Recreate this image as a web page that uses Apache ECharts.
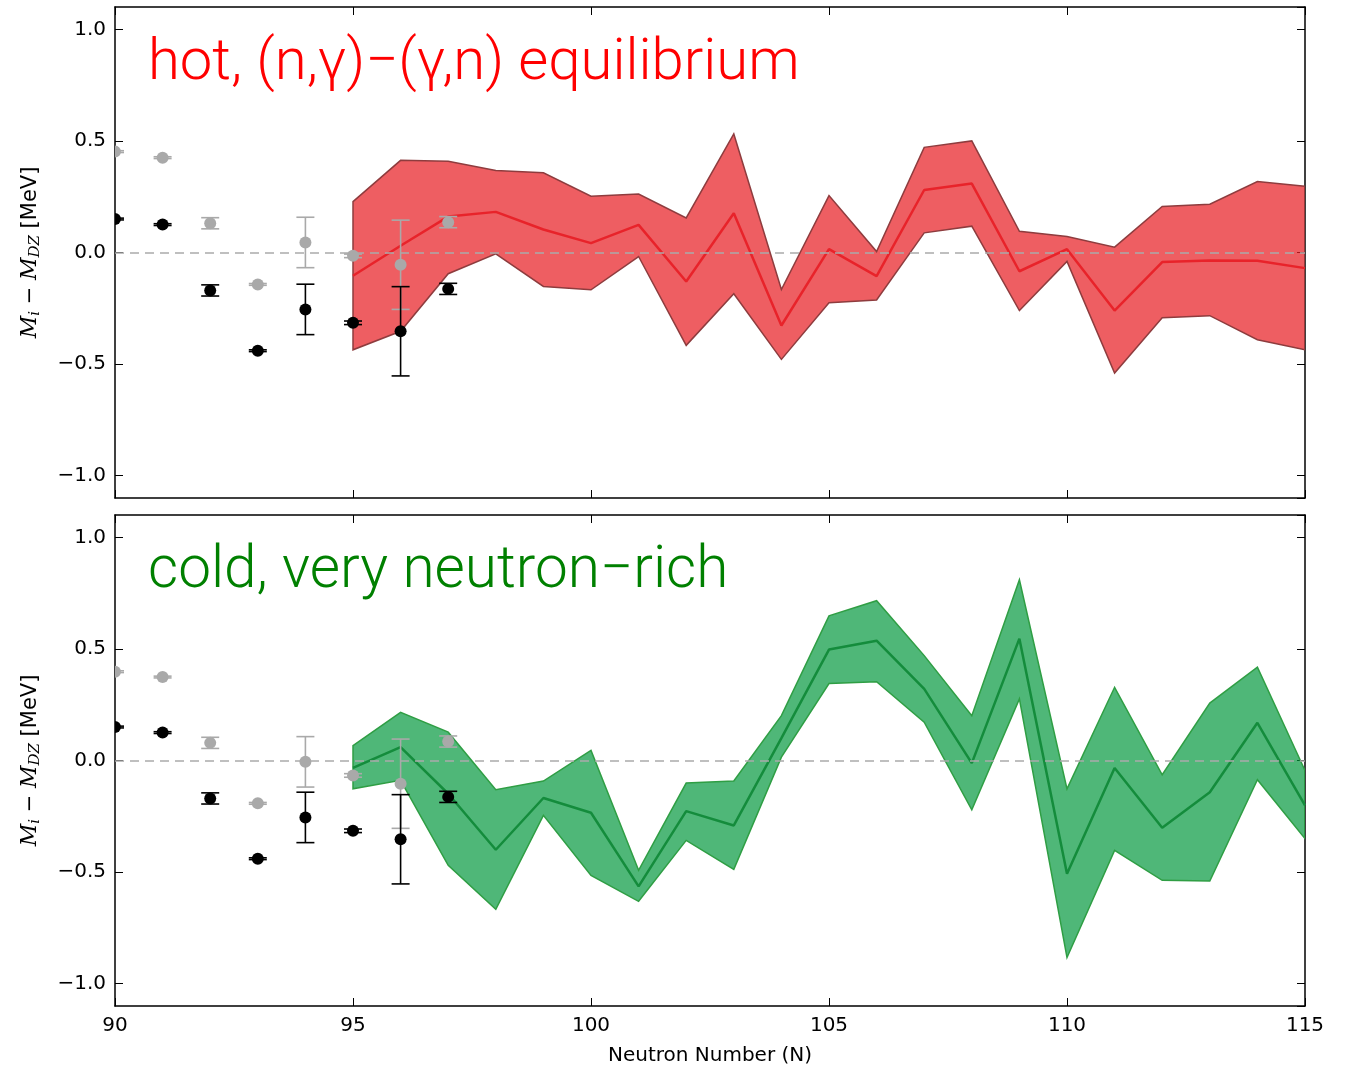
<!DOCTYPE html>
<html>
<head>
<meta charset="utf-8">
<script src="https://cdn.jsdelivr.net/npm/echarts@6/dist/echarts.min.js"></script>
<style>
  html, body { margin: 0; padding: 0; background: #fff; overflow: hidden; }
  #chart { width: 1345px; height: 1068px; }
</style>
</head>
<body>
<div id="chart"></div>
<script>
// Neutron numbers
const nExp = [90, 91, 92, 93, 94, 95, 96, 97];
const nModel = [95, 96, 97, 98, 99, 100, 101, 102, 103, 104, 105,
                106, 107, 108, 109, 110, 111, 112, 113, 114, 115];

// Measured mass differences (black) and their uncertainties
const measVal = [0.150, 0.125, -0.170, -0.440, -0.255, -0.315, -0.353, -0.163];
const measErr = [0.004, 0.004, 0.025, 0.004, 0.113, 0.008, 0.200, 0.025];

// Second measured set (grey), per scenario
const greyHot  = [0.452, 0.425, 0.131, -0.143, 0.045, -0.015, -0.055, 0.136];
const greyCold = [0.398, 0.374, 0.079, -0.192, -0.006, -0.067, -0.104, 0.085];
const greyErr  = [0.004, 0.004, 0.025, 0.004, 0.113, 0.008, 0.200, 0.025];

// Hot, (n,g)-(g,n) equilibrium: lower bound, central value, upper bound
const hotLow  = [-0.436, -0.353, -0.095, -0.006, -0.152, -0.167, -0.018, -0.416, -0.185, -0.479, -0.225,
                 -0.213, 0.088, 0.118, -0.260, -0.040, -0.540, -0.292, -0.283, -0.391, -0.436];
const hotMid  = [-0.104, 0.030, 0.161, 0.182, 0.103, 0.042, 0.124, -0.130, 0.176, -0.327, 0.015,
                 -0.106, 0.280, 0.309, -0.084, 0.015, -0.260, -0.043, -0.036, -0.037, -0.070];
const hotHigh = [0.228, 0.413, 0.409, 0.367, 0.357, 0.252, 0.262, 0.155, 0.531, -0.166, 0.255,
                 0.004, 0.471, 0.500, 0.095, 0.072, 0.024, 0.206, 0.216, 0.318, 0.297];

// Cold, very neutron-rich
const coldLow  = [-0.127, -0.089, -0.470, -0.667, -0.246, -0.515, -0.631, -0.358, -0.488, 0.015, 0.345,
                  0.353, 0.172, -0.221, 0.276, -0.883, -0.403, -0.537, -0.540, -0.086, -0.350];
const coldMid  = [-0.033, 0.060, -0.149, -0.400, -0.168, -0.234, -0.564, -0.227, -0.291, 0.100, 0.497,
                  0.537, 0.321, -0.012, 0.546, -0.507, -0.034, -0.301, -0.142, 0.169, -0.201];
const coldHigh = [0.067, 0.216, 0.127, -0.131, -0.092, 0.045, -0.492, -0.101, -0.092, 0.201, 0.648,
                  0.716, 0.470, 0.201, 0.810, -0.127, 0.328, -0.064, 0.257, 0.418, -0.045];

const xTickStep = 5;
const yRange = [-1.1, 1.1];

const fmtY = v => (v < 0 ? '\u2212' : '') + Math.abs(v).toFixed(1);
const tickFont = { fontFamily: 'DejaVu Sans', fontSize: 20, color: '#000' };

function bandRows(low, mid, high) {
  return nModel.map((n, i) => [n, low[i], mid[i], high[i]]);
}
function pointRows(vals, errs) {
  return nExp.map((n, i) => [n, vals[i], errs[i]]);
}

// Shaded band drawn as one closed polygon through upper and lower bounds
function bandSeries(rows, xi, yi, fill, edge) {
  return {
    type: 'custom', xAxisIndex: xi, yAxisIndex: yi, clip: true, z: 2,
    data: rows,
    encode: { x: 0, y: [1, 3] },
    renderItem: (params, api) => {
      if (params.dataIndex !== 0) return;
      const upper = rows.map(r => api.coord([r[0], r[3]]));
      const lower = rows.map(r => api.coord([r[0], r[1]])).reverse();
      return {
        type: 'polygon',
        shape: { points: upper.concat(lower) },
        style: { fill: fill, stroke: edge, lineWidth: 1.5 }
      };
    },
    markLine: {
      silent: true, symbol: 'none', label: { show: false },
      lineStyle: { color: '#aaaaaa', type: [9, 6], width: 1.5 },
      data: [{ yAxis: 0 }]
    }
  };
}

function midSeries(rows, xi, yi, color) {
  return {
    type: 'line', xAxisIndex: xi, yAxisIndex: yi, z: 3,
    data: rows.map(r => [r[0], r[2]]),
    symbol: 'none', lineStyle: { color: color, width: 2.5 }, silent: true
  };
}

// Points with vertical error bars and caps
function errSeries(rows, xi, yi, color, z) {
  return {
    type: 'custom', xAxisIndex: xi, yAxisIndex: yi, clip: true, z: z,
    data: rows,
    encode: { x: 0, y: 1 },
    renderItem: (params, api) => {
      const n = api.value(0), v = api.value(1), e = api.value(2);
      const c = api.coord([n, v]);
      const t = api.coord([n, v + e]);
      const b = api.coord([n, v - e]);
      const cap = 9;
      const ls = { stroke: color, lineWidth: 1.6 };
      return {
        type: 'group',
        children: [
          { type: 'line', shape: { x1: c[0], y1: t[1], x2: c[0], y2: b[1] }, style: ls },
          { type: 'line', shape: { x1: c[0] - cap, y1: t[1], x2: c[0] + cap, y2: t[1] }, style: ls },
          { type: 'line', shape: { x1: c[0] - cap, y1: b[1], x2: c[0] + cap, y2: b[1] }, style: ls },
          { type: 'circle', shape: { cx: c[0], cy: c[1], r: 6 }, style: { fill: color } }
        ]
      };
    }
  };
}

function xAxisDef(grid, pos, showLabels, name) {
  return {
    type: 'value', gridIndex: grid, position: pos,
    min: 90, max: 115, interval: xTickStep,
    axisLine: { show: true, onZero: false, lineStyle: { color: '#000', width: 1.5 } },
    axisTick: { show: true, inside: true, length: 8, lineStyle: { color: '#000', width: 1 } },
    axisLabel: Object.assign({ show: showLabels, margin: 10 }, tickFont),
    splitLine: { show: false },
    name: name || '', nameLocation: 'middle', nameGap: 40,
    nameTextStyle: { fontFamily: 'DejaVu Sans', fontSize: 20, color: '#000' }
  };
}

const yName = '{i|M}{s|i}{n| \u2212 }{i|M}{s|DZ}{n| [MeV]}';
const yRich = {
  i: { fontFamily: 'DejaVu Serif', fontStyle: 'italic', fontSize: 22, color: '#000' },
  s: { fontFamily: 'DejaVu Serif', fontStyle: 'italic', fontSize: 15, color: '#000', padding: [10, 0, 0, 0] },
  n: { fontFamily: 'DejaVu Sans', fontSize: 21, color: '#000' }
};

function yAxisDef(grid, pos, showLabels, withName) {
  return {
    type: 'value', gridIndex: grid, position: pos,
    min: yRange[0], max: yRange[1], splitNumber: 5,
    axisLine: { show: true, onZero: false, lineStyle: { color: '#000', width: 1.5 } },
    axisTick: { show: true, inside: true, length: 8, lineStyle: { color: '#000', width: 1 } },
    axisLabel: Object.assign({ show: showLabels, margin: 9, formatter: fmtY,
                               showMinLabel: false, showMaxLabel: false }, tickFont),
    splitLine: { show: false },
    name: withName ? yName : '', nameLocation: 'middle', nameRotate: 90, nameGap: 72,
    nameTextStyle: { rich: yRich }
  };
}

const chart = echarts.init(document.getElementById('chart'), null, { renderer: 'canvas' });

chart.setOption({
  animation: false,
  backgroundColor: '#fff',
  title: [
    { text: 'hot, (n,\u03b3)\u2212(\u03b3,n) equilibrium', left: 143, top: 30,
      textStyle: { fontFamily: 'Roboto', fontWeight: 300, fontSize: 58, color: '#ff0000' } },
    { text: 'cold, very neutron\u2212rich', left: 143, top: 538,
      textStyle: { fontFamily: 'Roboto', fontWeight: 300, fontSize: 58.5, color: '#008000' } }
  ],
  grid: [
    { left: 115, top: 7, width: 1190, height: 491, outerBoundsMode: 'none' },
    { left: 115, top: 515, width: 1190, height: 491, outerBoundsMode: 'none' }
  ],
  xAxis: [
    xAxisDef(0, 'bottom', false),
    xAxisDef(0, 'top', false),
    xAxisDef(1, 'bottom', true, 'Neutron Number (N)'),
    xAxisDef(1, 'top', false)
  ],
  yAxis: [
    yAxisDef(0, 'left', true, true),
    yAxisDef(0, 'right', false, false),
    yAxisDef(1, 'left', true, true),
    yAxisDef(1, 'right', false, false)
  ],
  series: [
    bandSeries(bandRows(hotLow, hotMid, hotHigh), 0, 0, 'rgba(232,32,38,0.72)', '#8e3c3e'),
    midSeries(bandRows(hotLow, hotMid, hotHigh), 0, 0, '#e8232a'),
    errSeries(pointRows(greyHot, greyErr), 0, 0, '#a9a9a9', 5),
    errSeries(pointRows(measVal, measErr), 0, 0, '#000000', 6),

    bandSeries(bandRows(coldLow, coldMid, coldHigh), 2, 2, 'rgba(0,150,60,0.69)', '#2f9e44'),
    midSeries(bandRows(coldLow, coldMid, coldHigh), 2, 2, '#148c3c'),
    errSeries(pointRows(greyCold, greyErr), 2, 2, '#a9a9a9', 5),
    errSeries(pointRows(measVal, measErr), 2, 2, '#000000', 6)
  ]
});
</script>
</body>
</html>
